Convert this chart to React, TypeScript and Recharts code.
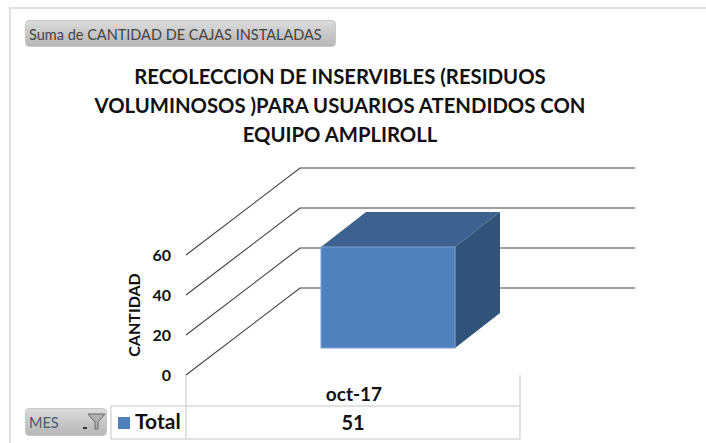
import { Bar, BarChart, CartesianGrid, XAxis, YAxis } from "recharts";

const months = ["oct-17"];
const totals = [51];
const yTicks = [0, 20, 40, 60];
const titleLines = [
  "RECOLECCION DE INSERVIBLES (RESIDUOS",
  "VOLUMINOSOS )PARA USUARIOS ATENDIDOS CON",
  "EQUIPO AMPLIROLL",
];

const data = months.map((mes, i) => ({ mes, total: totals[i] }));

const FONT = "Lato, Carlito, sans-serif";
const TABLE_LINE = "#d9d9d9";
const BUTTON_BG = "linear-gradient(#dcdcdc, #c4c4c4 60%, #b8b8b8)";

// the back wall of the 3d plot sits up and to the right of the front plane
const WALL_DX = 114;
const WALL_DY = 87;
const WALL_END = 635;

function DepthGridLine(props: any) {
  const { x1, y1 } = props;
  const bx = x1 + WALL_DX;
  const by = y1 - WALL_DY;
  return (
    <path
      d={`M${x1},${y1}L${bx},${by}L${WALL_END},${by}`}
      fill="none"
      stroke="#404040"
      strokeWidth={1.1}
    />
  );
}

function Box3D(props: any) {
  const { x, y, width, height } = props;
  // front face floats off the floor
  const fx = x + 35;
  const fy = y - 26;
  const dx = 45;
  const dy = 35;
  const r = fx + width;
  const b = fy + height - 1;
  return (
    <g>
      <path d={`M${fx},${fy}L${fx + dx},${fy - dy}L${r + dx},${fy - dy}L${r},${fy}Z`} fill="#3e628f" />
      <path d={`M${r},${fy}L${r + dx},${fy - dy}L${r + dx},${b - dy}L${r},${b}Z`} fill="#325379" />
      <rect x={fx} y={fy} width={width} height={b - fy} fill="#4f81bd" stroke="#7ba3d3" strokeWidth={1} />
    </g>
  );
}

function TableTick(props: any) {
  const { x, y, payload, index } = props;
  const left = 111;
  const split = 186;
  const right = 520;
  const top = y;
  const rowLine = top + 31;
  const bottom = top + 64;
  const text = { fontFamily: FONT, fontWeight: 700, fill: "#111" };
  return (
    <g>
      <path
        d={`M${split},${top}V${bottom}M${right},${top}V${bottom}M${left},${rowLine}H${right}M${left},${rowLine}V${bottom}H${right}`}
        fill="none"
        stroke={TABLE_LINE}
        strokeWidth={1.5}
      />
      <text x={x + 1} y={top + 26} textAnchor="middle" fontSize={19} {...text}>
        {payload.value}
      </text>
      <rect x={118} y={rowLine + 11} width={12} height={12} fill="#4f81bd" />
      <text x={135} y={rowLine + 23} fontSize={21} {...text}>
        Total
      </text>
      <text x={x} y={rowLine + 24} textAnchor="middle" fontSize={20} {...text}>
        {totals[index]}
      </text>
    </g>
  );
}

const buttonStyle = {
  position: "absolute" as const,
  left: 25,
  background: BUTTON_BG,
  borderRadius: 4,
  border: "1px solid #c8c8c8",
  boxSizing: "border-box" as const,
  color: "#444",
  fontFamily: FONT,
  fontSize: 14.5,
  paddingLeft: 3,
};

export default function App() {
  return (
    <div
      style={{
        position: "absolute",
        left: 0,
        top: 0,
        width: 706,
        height: 443,
        overflow: "hidden",
        background: "#fff",
      }}
    >
      <div
        style={{
          position: "absolute",
          left: 9,
          top: 7,
          width: 700,
          height: 440,
          borderLeft: "2px solid #e0e0e0",
          borderTop: "2px solid #e0e0e0",
        }}
      />
      <BarChart
        width={706}
        height={443}
        data={data}
        margin={{ top: 255, right: 186, bottom: 0, left: 126 }}
      >
        <CartesianGrid vertical={false} horizontal={DepthGridLine} />
        <XAxis
          dataKey="mes"
          height={68}
          axisLine={false}
          tickLine={false}
          tickSize={0}
          tickMargin={0}
          tick={TableTick}
          interval={0}
        />
        <YAxis
          width={60}
          domain={[0, 60]}
          ticks={yTicks}
          axisLine={false}
          tickLine={false}
          tickMargin={9}
          tick={{ fontFamily: FONT, fontWeight: 700, fontSize: 16, fill: "#111" }}
          label={{
            value: "CANTIDAD",
            angle: -90,
            position: "insideLeft",
            offset: 0,
            dx: 8,
            style: { fontFamily: FONT, fontWeight: 700, fontSize: 16, fill: "#111", textAnchor: "middle" },
          }}
        />
        <Bar dataKey="total" barSize={134} isAnimationActive={false} shape={Box3D} />
      </BarChart>
      <div
        style={{
          position: "absolute",
          left: 40,
          width: 600,
          top: 62,
          textAlign: "center",
          fontFamily: FONT,
          fontWeight: 700,
          fontSize: 20.3,
          lineHeight: "29px",
          color: "#111",
        }}
      >
        {titleLines.map((line) => (
          <div key={line}>{line}</div>
        ))}
      </div>
      <div style={{ ...buttonStyle, top: 20, width: 311, height: 27, lineHeight: "27px" }}>
        Suma de CANTIDAD DE CAJAS INSTALADAS
      </div>
      <div style={{ ...buttonStyle, top: 408, width: 82, height: 28, lineHeight: "28px", color: "#4a5a70" }}>
        MES
        <svg width={24} height={20} style={{ position: "absolute", left: 57, top: 3 }}>
          <path d="M5,2H22L15,10V17H12V10Z" fill="#b0b0b0" stroke="#666" strokeWidth={1} />
          <rect x={0} y={15} width={4} height={2} fill="#333" />
        </svg>
      </div>
    </div>
  );
}
